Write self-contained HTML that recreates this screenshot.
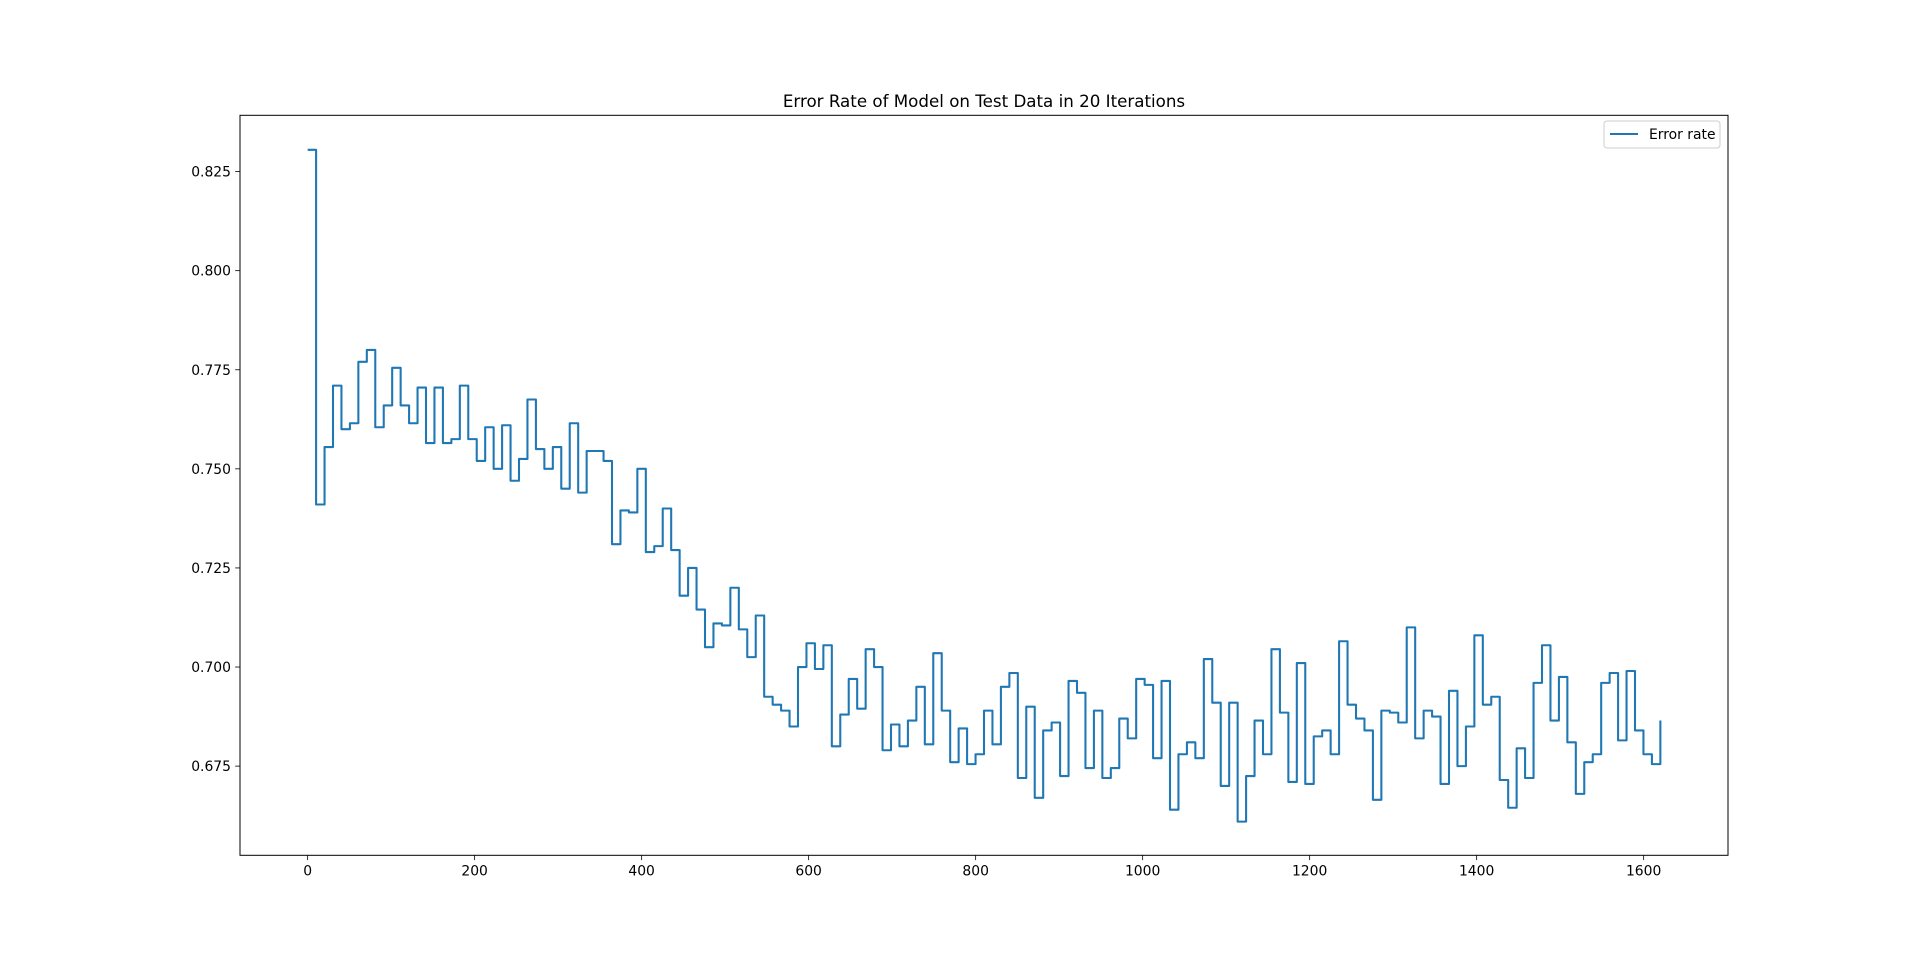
<!DOCTYPE html>
<html><head><meta charset="utf-8"><style>
html,body{margin:0;padding:0;background:#fff;}
svg{display:block;font-family:"DejaVu Sans","Liberation Sans",sans-serif;}
</style></head><body>
<svg id="chart" width="1920" height="961" viewBox="0 0 1920 961" xmlns="http://www.w3.org/2000/svg">
<rect width="1920" height="961" fill="#fff"/>
<text x="984" y="107" text-anchor="middle" font-size="16.7" fill="#000">Error Rate of Model on Test Data in 20 Iterations</text>
<g id="xticks"></g>
<g id="yticks"></g>
<g id="plot"></g>
<rect x="240" y="115.3" width="1488" height="740" fill="none" stroke="#000" stroke-width="1"/>
<g>
<rect x="1604" y="121" width="116" height="27" rx="3" fill="#fff" fill-opacity="0.8" stroke="#ccc" stroke-width="1"/>
<line x1="1610" y1="134" x2="1638" y2="134" stroke="#1f77b4" stroke-width="2.08"/>
<text x="1649" y="139" font-size="13.9" fill="#000">Error rate</text>
</g>
</svg>
<script>
const errorValues = [0.8305,0.741,0.7555,0.771,0.760,0.7615,0.777,0.780,0.7605,0.766,
0.7755,0.766,0.7615,0.7705,0.7565,0.7705,0.7565,0.7575,0.771,0.7575,
0.752,0.7605,0.750,0.761,0.747,0.7525,0.7675,0.755,0.750,0.7555,
0.745,0.7615,0.744,0.7545,0.7545,0.752,0.731,0.7395,0.739,0.750,
0.729,0.7305,0.740,0.7295,0.718,0.725,0.7145,0.705,0.711,0.7105,
0.720,0.7095,0.7025,0.713,0.6925,0.6905,0.689,0.685,0.700,0.706,
0.6995,0.7055,0.680,0.688,0.697,0.6895,0.7045,0.700,0.679,0.6855,
0.680,0.6865,0.695,0.6805,0.7035,0.689,0.676,0.6845,0.6755,0.678,
0.689,0.6805,0.695,0.6985,0.672,0.690,0.667,0.684,0.686,0.6725,
0.6965,0.6935,0.6745,0.689,0.672,0.6745,0.687,0.682,0.697,0.6955,
0.677,0.6965,0.664,0.678,0.681,0.677,0.702,0.691,0.670,0.691,
0.661,0.6725,0.6865,0.678,0.7045,0.6885,0.671,0.701,0.6705,0.6825,
0.684,0.678,0.7065,0.6905,0.687,0.684,0.6665,0.689,0.6885,0.686,
0.710,0.682,0.689,0.6875,0.6705,0.694,0.675,0.685,0.708,0.6905,
0.6925,0.6715,0.6645,0.6795,0.672,0.696,0.7055,0.6865,0.6975,0.681,
0.668,0.676,0.678,0.696,0.6985,0.6815,0.699,0.684,0.678,0.6755];
const finalIteration = 1620;
const finalValue = 0.6865;
const xTickValues = [0,200,400,600,800,1000,1200,1400,1600];
const yTickValues = [0.675,0.700,0.725,0.750,0.775,0.800,0.825];
const yTickLabels = ["0.675","0.700","0.725","0.750","0.775","0.800","0.825"];

const NS="http://www.w3.org/2000/svg";
const L=240,R=1728,T=115.3,B=855.3;
const xmin=-81,xmax=1701,ymin=0.6525,ymax=0.8392;
const sx=v=>L+(v-xmin)/(xmax-xmin)*(R-L);
const sy=v=>B-(v-ymin)/(ymax-ymin)*(B-T);
function mk(tag,attrs,parent){const e=document.createElementNS(NS,tag);for(const k in attrs)e.setAttribute(k,attrs[k]);parent.appendChild(e);return e;}

const xg=document.getElementById('xticks');
xTickValues.forEach(v=>{
  const x=sx(v);
  const t=mk('line',{x1:x,y1:B,x2:x,y2:B+4.86,stroke:'#000','stroke-width':0.8},xg);
  
  
  const tx=mk('text',{x:x,y:B+20,'text-anchor':'middle','font-size':13.9,fill:'#000'},xg);
  
  
  tx.textContent=String(v);
});
const yg=document.getElementById('yticks');
yTickValues.forEach((v,i)=>{
  const y=sy(v);
  const t=mk('line',{x1:L-4.86,y1:y,x2:L,y2:y,stroke:'#000','stroke-width':0.8},yg);
  
  
  const tx=mk('text',{x:L-9,y:y+5,'text-anchor':'end','font-size':13.9,fill:'#000'},yg);
  
  
  tx.textContent=yTickLabels[i];
});
const step=finalIteration/errorValues.length;
let d='';
errorValues.forEach((v,i)=>{
  const x0=sx(i*step),x1=sx((i+1)*step),y=sy(v);
  d+=(i===0?'M':'L')+x0.toFixed(2)+','+y.toFixed(2)+'L'+x1.toFixed(2)+','+y.toFixed(2);
});
d+='L'+sx(finalIteration).toFixed(2)+','+sy(finalValue).toFixed(2);
const p=mk('path',{d:d,fill:'none',stroke:'#1f77b4','stroke-width':2.08,'stroke-linejoin':'round'},document.getElementById('plot'));


</script>
</body></html>
